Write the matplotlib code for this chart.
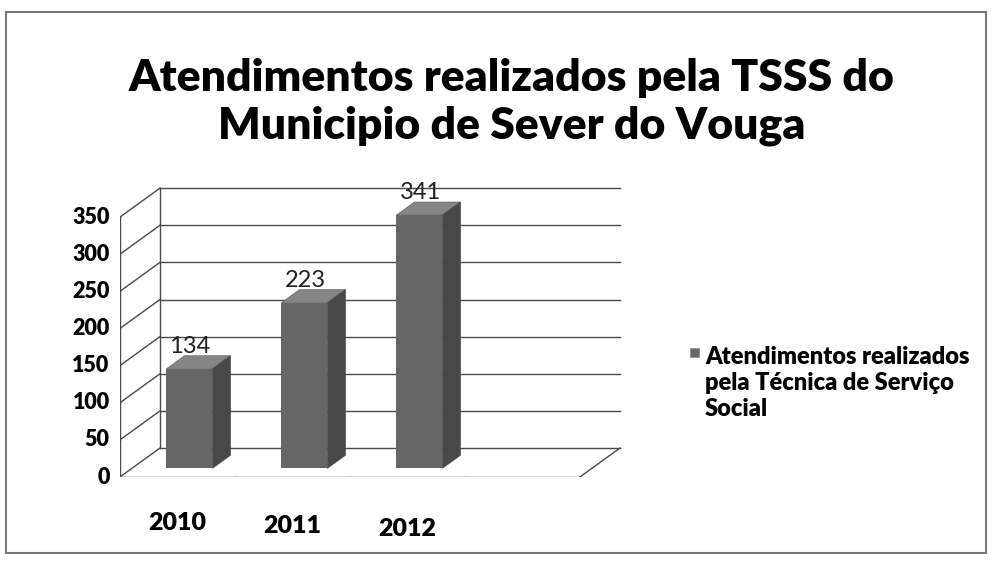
import matplotlib.pyplot as plt
from matplotlib.patches import Polygon, Rectangle

plt.rcParams['font.family'] = ['Lato', 'DejaVu Sans']

years = ['2010', '2011', '2012']
atendimentos = [134, 223, 341]
yticks = [0, 50, 100, 150, 200, 250, 300, 350]
title = 'Atendimentos realizados pela TSSS do\nMunicipio de Sever do Vouga'
legend_label = 'Atendimentos realizados\npela Técnica de Serviço\nSocial'

# pseudo 3d depth offset in data units
ddx, ddy = 0.348, 39
f0, f1 = 0.3, 0.75
w = 0.4
n_slots = 4

fig = plt.figure(figsize=(9.93, 5.68), dpi=100)
ax = fig.add_axes([0.1208, 0.1602, 0.5211, 0.523])
ax.set_xlim(-0.5, 4.0)
ax.set_ylim(0, 400)
ax.axis('off')

gc = '#4a4a4a'
x0, x1 = -0.5, n_slots - 0.5
# back wall gridlines + left wall diagonals
for v in yticks:
    ax.plot([x0 + ddx, x1 + ddx], [v + ddy, v + ddy], color=gc, lw=1, zorder=1)
    ax.plot([x0, x0 + ddx], [v, v + ddy], color=gc, lw=1, zorder=1)
ax.plot([x0 + ddx, x0 + ddx], [ddy, yticks[-1] + ddy], color=gc, lw=1, zorder=1)
# front y axis with ticks
ax.plot([x0, x0], [0, yticks[-1]], color=gc, lw=1, zorder=1)
for v in yticks:
    ax.plot([x0 - 0.05, x0], [v, v], color=gc, lw=1, zorder=1)
    ax.text(x0 - 0.09, v, str(v), ha='right', va='center', fontsize=15.5, fontweight='heavy')
# floor
ax.plot([x0, x1], [0, 0], color=gc, lw=1, zorder=1)
ax.plot([x1, x1 + ddx], [0, ddy], color=gc, lw=1, zorder=1)
for i in range(n_slots + 1):
    ax.plot([x0 + i, x0 + i], [0, -7], color=gc, lw=1, zorder=1)

# bars
xs = list(range(len(years)))
ax.bar([x + f0 * ddx for x in xs], atendimentos, bottom=f0 * ddy, width=w,
       color='#666666', zorder=3)
dz = (f1 - f0)
for x, v in zip(xs, atendimentos):
    l = x - w / 2 + f0 * ddx
    r = x + w / 2 + f0 * ddx
    b = f0 * ddy
    t = v + f0 * ddy
    top = Polygon([(l, t), (r, t), (r + dz * ddx, t + dz * ddy), (l + dz * ddx, t + dz * ddy)],
                  closed=True, facecolor='#858585', edgecolor='#666666', lw=0.5, zorder=3)
    side = Polygon([(r, b), (r + dz * ddx, b + dz * ddy), (r + dz * ddx, t + dz * ddy), (r, t)],
                   closed=True, facecolor='#484848', edgecolor='#484848', lw=0.5, zorder=3)
    ax.add_patch(top)
    ax.add_patch(side)
    ax.text(x + 0.11, v + 42, str(v), ha='center', va='center', fontsize=17,
            color='#222222', zorder=4)
    ax.text(x, -62 - 4 * x, years[x], ha='center', va='center', fontsize=18,
            fontweight='heavy')

# title
fig.text(0.515, 0.82, title, ha='center', va='center', fontsize=32,
         fontweight='heavy', linespacing=1.22)

# legend
fig.patches.append(Rectangle((690 / 993, 1 - 357 / 568), 9 / 993, 9 / 568,
                             transform=fig.transFigure, facecolor='#666666',
                             edgecolor='#888888', lw=0.5))
fig.text(705 / 993, 1 - 383 / 568, legend_label, ha='left', va='center',
         fontsize=17, fontweight='heavy', linespacing=1.2)

# chart border
fig.patches.append(Rectangle((6 / 993, 1 - 553 / 568), 980 / 993, 541 / 568,
                             transform=fig.transFigure, fill=False,
                             edgecolor='#777777', lw=1.5))

fig.savefig('out.png', dpi=100)
